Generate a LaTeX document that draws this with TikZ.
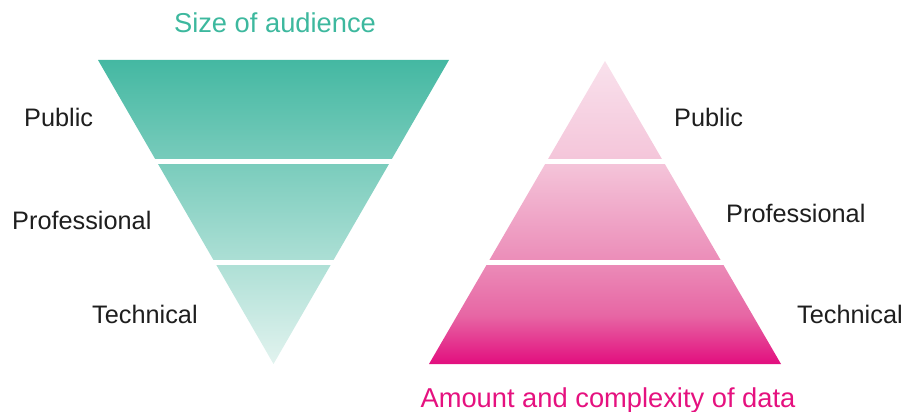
\documentclass[tikz,border=0pt]{standalone}
\usepackage{fontspec}
\setmainfont{Liberation Sans}
\definecolor{tealtop}{HTML}{44B8A2}
\definecolor{tealbot}{HTML}{E2F3EF}
\definecolor{tealtxt}{HTML}{3DB89E}
\definecolor{pinktxt}{HTML}{E5117F}
\definecolor{pkA}{HTML}{E20E7E}
\definecolor{pkB}{HTML}{E766A4}
\definecolor{pkC}{HTML}{EB8AB7}
\definecolor{pkD}{HTML}{F4C4D9}
\definecolor{pkE}{HTML}{F9E1EC}
\definecolor{labeltxt}{HTML}{1E1E1E}
% pyramid fill: deepens quickly towards the base
\pgfdeclareverticalshading{pinkfade}{100bp}{%
  color(0bp)=(pkA); color(25bp)=(pkA); color(33bp)=(pkB);
  color(41.3bp)=(pkC); color(58bp)=(pkD); color(75bp)=(pkE); color(100bp)=(pkE)}
\tikzset{
  level/.style={font=\fontsize{25.3}{30}\selectfont, text=labeltxt, inner sep=0pt, anchor=base west},
  heading/.style={font=\fontsize{27.3}{32}\selectfont, inner sep=0pt, anchor=base},
  gap/.style={fill=white, draw=none}
}
\begin{document}
\begin{tikzpicture}[x=1pt,y=-1pt]
\useasboundingbox (0,0) rectangle (908,412);
% funnel (size of audience)
\coordinate (fl) at (98,60);
\coordinate (fr) at (449,60);
\coordinate (fa) at (273.5,364);
\shade[top color=tealtop, bottom color=tealbot] (fl) -- (fr) -- (fa) -- cycle;
\fill[gap] (90,158.5) rectangle (460,164);
\fill[gap] (90,259.5) rectangle (460,265);
% pyramid (amount and complexity of data)
\coordinate (pa) at (605,61);
\coordinate (pl) at (429,364);
\coordinate (pr) at (781,364);
\shade[shading=pinkfade] (pa) -- (pr) -- (pl) -- cycle;
\fill[gap] (420,158.5) rectangle (790,164);
\fill[gap] (420,259.5) rectangle (790,265);
% headings
\node[heading, text=tealtxt] (size) at (275,33) {Size of audience};
\node[heading, text=pinktxt] (amount) at (608,407) {Amount and complexity of data};
% funnel labels
\node[level] (lpub) at (24,126) {Public};
\node[level] (lpro) at (12,229) {Professional};
\node[level] (ltec) at (92,323) {Technical};
% pyramid labels
\node[level] (rpub) at (674,126) {Public};
\node[level] (rpro) at (726,222) {Professional};
\node[level] (rtec) at (797,323) {Technical};
\end{tikzpicture}
\end{document}
